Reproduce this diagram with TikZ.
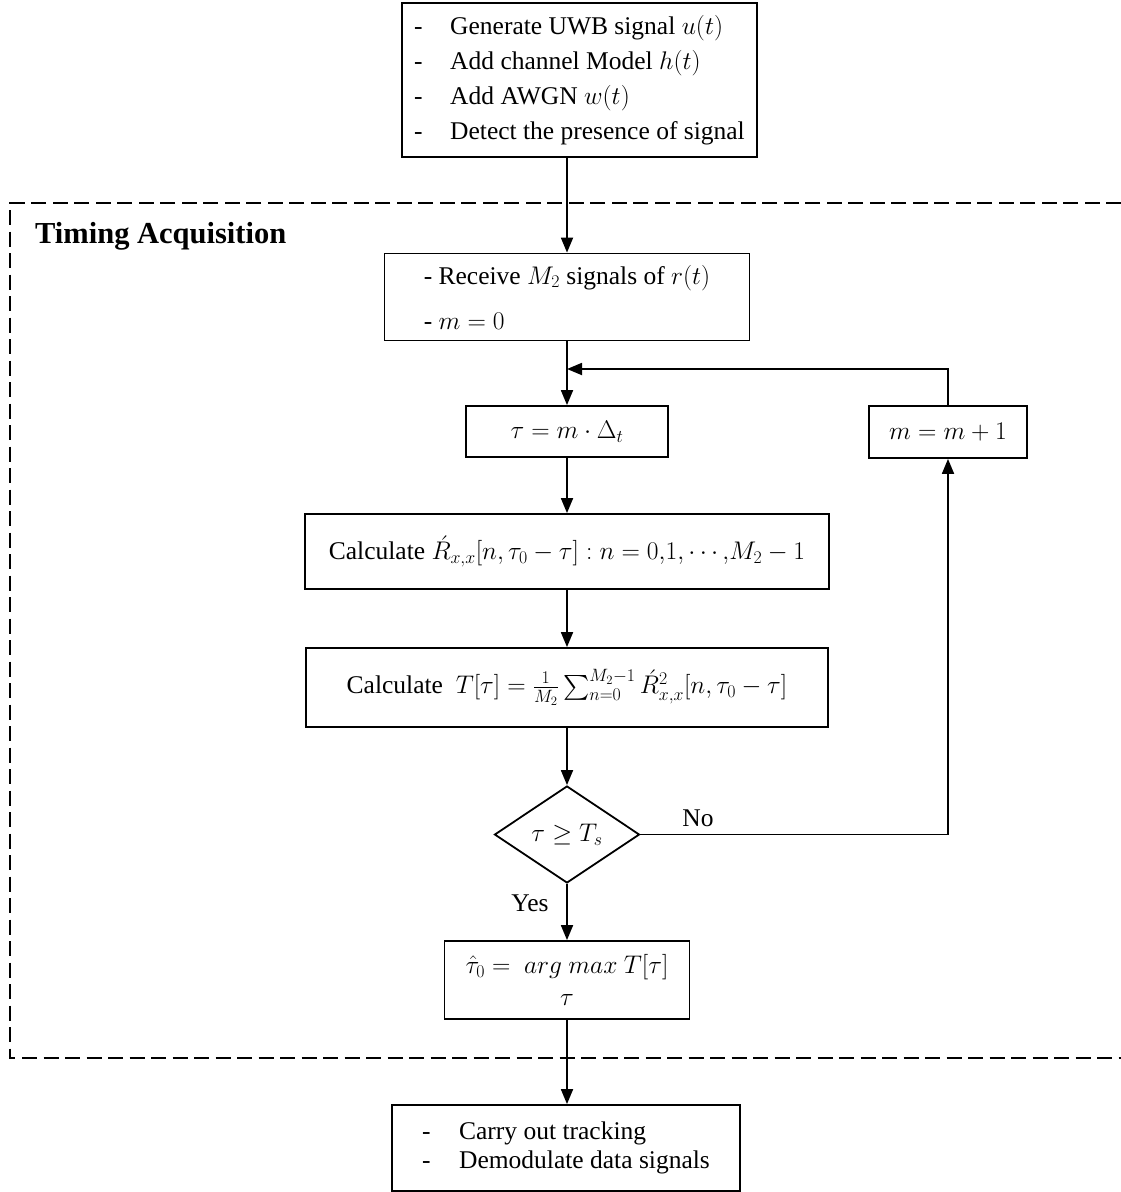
\RequirePackage{fix-cm}
\documentclass[tikz,border=0pt]{standalone}
\usepackage{amsmath}
\usepackage{fontspec}
\setmainfont{Liberation Serif}
\usetikzlibrary{arrows.meta,shapes.geometric}
\begin{document}
\begin{tikzpicture}[x=1pt,y=-1pt,
  every node/.style={font=\fontsize{25.5}{30}\selectfont},
  box/.style={draw,line width=1.8pt,inner sep=0pt,align=center},
  arr/.style={line width=1.8pt,-{Triangle[length=15pt,width=12pt]}},
  frame/.style={line width=1.8pt,dash pattern=on 15pt off 6.5pt},
  lbl/.style={inner sep=0pt}]
\useasboundingbox (0,0) rectangle (1121,1192);

% dashed frame
\draw[frame] (1121,203) -| (10,1058) -- (1121,1058);
\node[lbl,anchor=base west,font=\fontsize{30.5}{34}\selectfont\bfseries] (title) at (35,243) {Timing Acquisition};

% boxes
\node[box,minimum width=355pt,minimum height=154pt,align=left,font=\fontsize{25.5}{35}\selectfont] (gen) at (579.5,80)
 {\makebox[36pt][l]{-}Generate UWB signal $u(t)$\\
  \makebox[36pt][l]{-}Add channel Model $h(t)$\\
  \makebox[36pt][l]{-}Add AWGN $w(t)$\\
  \makebox[36pt][l]{-}Detect the presence of signal};

\node[box,minimum width=365pt,minimum height=87pt,align=left,font=\fontsize{25.5}{45}\selectfont] (recv) at (567,297)
 {- Receive $M_2$ signals of $r(t)$\\- $m=0$};

\node[box,minimum width=202pt,minimum height=51pt] (tau) at (567,431.5) {$\tau = m\cdot\Delta_t$};
\node[box,minimum width=158pt,minimum height=52pt] (minc) at (948,432) {$m = m+1$};

\node[box,minimum width=524pt,minimum height=75pt] (rbox) at (567,551.5)
 {Calculate $\acute{R}_{x,x}[n,\tau_0-\tau] : n = 0{,}1{,}\cdots{,}M_2-1$};

\node[box,minimum width=522pt,minimum height=79pt] (tbox) at (567,687.5)
 {Calculate\ \ $T[\tau] = \frac{1}{M_2}\sum_{n=0}^{M_2-1}\acute{R}^2_{x,x}[n,\tau_0-\tau]$};

\node[box,shape=diamond,aspect=1.5,minimum width=145pt,minimum height=97pt] (dia) at (567,834.5) {$\tau \geq T_s$};

\node[box,minimum width=245pt,minimum height=78pt,font=\fontsize{25.5}{32}\selectfont] (est) at (567,980)
 {$\hat{\tau}_0 = \ arg\ max\ T[\tau]$\\$\tau$};

\node[box,minimum width=348pt,minimum height=86pt,align=left,font=\fontsize{25.5}{29}\selectfont] (fin) at (566,1148)
 {\makebox[37pt][l]{-}Carry out tracking\\
  \makebox[37pt][l]{-}Demodulate data signals};

% labels
\node[lbl] (no) at (698,818) {No};
\node[lbl] (yes) at (530,903) {Yes};

% connectors
\coordinate (join) at (567,369);
\draw[arr] (gen.south -| recv.north) -- (recv.north);
\draw[arr] (recv.south) -- (tau.north);
\draw[arr] (minc.north) |- (join);
\draw[arr] (tau.south) -- (rbox.north);
\draw[arr] (rbox.south) -- (tbox.north);
\draw[arr] (tbox.south) -- (dia.north);
\draw[arr] (dia.east) -| (minc.south);
\draw[arr] (dia.south) -- (est.north);
\draw[arr] (est.south) -- (est.south |- fin.north);
\end{tikzpicture}
\end{document}
